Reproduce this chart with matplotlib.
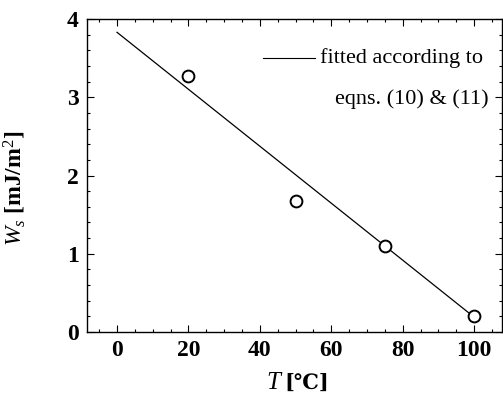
import matplotlib
matplotlib.use("Agg")
import matplotlib.pyplot as plt
from matplotlib.ticker import MultipleLocator

plt.rcParams['font.family'] = ['Liberation Serif', 'DejaVu Serif']
plt.rcParams['mathtext.fontset'] = 'custom'
plt.rcParams['mathtext.it'] = 'Liberation Serif:italic'
plt.rcParams['mathtext.rm'] = 'Liberation Serif'
plt.rcParams['mathtext.bf'] = 'Liberation Serif:bold'

temps = [20, 50, 75, 100]
ws = [3.27, 1.67, 1.10, 0.20]
fit_x = [0, 100]
fit_y = [3.83, 0.19]

fig = plt.figure(figsize=(5.03, 4.04), dpi=100)
ax = fig.add_axes([87/503, 1-332/404, (502-87)/503, (332-19)/404])

ax.plot(fit_x, fit_y, color='black', lw=0.9)
ax.plot(temps, ws, 'o', mfc='white', mec='black', ms=8.5, mew=1.4)

ax.set_xlim(-8.4, 107.8)
ax.set_ylim(0, 4)
ax.xaxis.set_major_locator(MultipleLocator(20))
ax.xaxis.set_minor_locator(MultipleLocator(5))
ax.yaxis.set_major_locator(MultipleLocator(1))
ax.yaxis.set_minor_locator(MultipleLocator(0.2))
ax.tick_params(which='both', direction='in', top=True, right=True, width=0.8)
ax.tick_params(which='major', length=5, labelsize=17)
ax.tick_params(axis='x', which='major', pad=6)
ax.tick_params(axis='y', which='major', pad=6)
ax.tick_params(which='minor', length=2.5)
for lab in ax.get_xticklabels() + ax.get_yticklabels():
    lab.set_fontweight('bold')
for s in ax.spines.values():
    s.set_linewidth(1.0)

# x label: italic T + [℃]
fig.text(0.557, 1-383/404, 'T', fontsize=18, fontstyle='italic', ha='right', va='center')
fig.text(0.565, 1-383/404, '[℃]', fontsize=15, fontweight='bold', ha='left', va='center',
         family=['DejaVu Serif'])

ax.set_ylabel(r'$W_s$ [mJ/m$^2$]', fontsize=17, fontweight='bold')
ax.yaxis.set_label_coords(-0.143, 0.46)

ax.plot([40.8, 55.4], [3.50, 3.50], color='black', lw=0.8)
ax.text(56.8, 3.50, 'fitted according to', fontsize=16, va='center', ha='left')
ax.text(104.0, 2.98, 'eqns. (10) & (11)', fontsize=16, va='center', ha='right')

fig.savefig('out.png', dpi=100)
